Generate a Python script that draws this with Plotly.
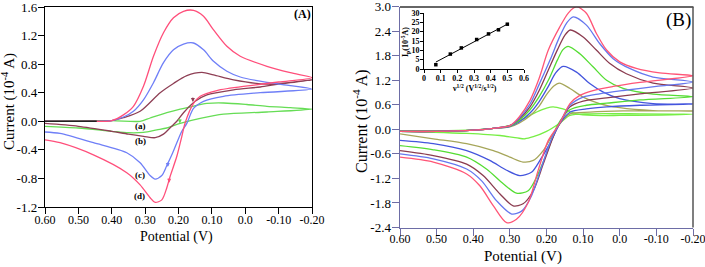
import plotly.graph_objects as go

# ---------------- Panel A data ----------------
a_xticks = [0.60, 0.50, 0.40, 0.30, 0.20, 0.10, 0.0, -0.10, -0.20]
a_xticktext = ["0.60", "0.50", "0.40", "0.30", "0.20", "0.10", "0.0", "-0.10", "-0.20"]
a_yticks = [1.6, 1.2, 0.8, 0.4, 0.0, -0.4, -0.8, -1.2]
a_yticktext = ["1.6", "1.2", "0.8", "0.4", "0.0", "-0.4", "-0.8", "-1.2"]

# (d) red
a_red_x = [0.60, 0.50, 0.40, 0.365, 0.335, 0.305, 0.275, 0.245, 0.215, 0.185, 0.155, 0.125, 0.095, 0.055, 0.015, -0.065, -0.135, -0.20,
           -0.10, -0.015, 0.085, 0.135, 0.155, 0.18, 0.19, 0.205, 0.225, 0.235, 0.25, 0.27, 0.285, 0.315, 0.355, 0.455, 0.555, 0.60]
a_red_y = [0.0, 0.0, 0.01, 0.09, 0.21, 0.49, 0.91, 1.24, 1.45, 1.54, 1.553, 1.47, 1.28, 1.05, 0.91, 0.77, 0.68, 0.61,
           0.55, 0.50, 0.43, 0.35, 0.25, -0.02, -0.21, -0.49, -0.77, -0.93, -1.10, -1.135, -1.07, -0.89, -0.72, -0.47, -0.30, -0.26]
# (c) blue
a_blue_x = [0.60, 0.50, 0.40, 0.365, 0.335, 0.305, 0.275, 0.245, 0.215, 0.185, 0.155, 0.125, 0.095, 0.055, 0.015, -0.065, -0.135, -0.20,
            -0.045, 0.065, 0.125, 0.155, 0.175, 0.19, 0.205, 0.22, 0.235, 0.25, 0.27, 0.285, 0.315, 0.355, 0.455, 0.555, 0.60]
a_blue_y = [0.0, 0.0, 0.01, 0.06, 0.14, 0.30, 0.54, 0.82, 1.0, 1.08, 1.096, 1.0, 0.84, 0.70, 0.62, 0.545, 0.50, 0.45,
            0.40, 0.35, 0.28, 0.18, -0.03, -0.14, -0.30, -0.47, -0.62, -0.76, -0.81, -0.76, -0.58, -0.44, -0.30, -0.17, -0.15]
# (b) brown
a_brown_x = [0.60, 0.50, 0.40, 0.365, 0.315, 0.255, 0.215, 0.175, 0.13, 0.095, 0.035, -0.065, -0.135, -0.20,
             -0.10, -0.045, 0.035, 0.115, 0.15, 0.185, 0.205, 0.225, 0.245, 0.27, 0.305, 0.35, 0.40, 0.50, 0.60]
a_brown_y = [0.0, 0.0, 0.01, 0.05, 0.14, 0.40, 0.53, 0.64, 0.685, 0.65, 0.58, 0.52, 0.545, 0.58,
             0.52, 0.48, 0.44, 0.37, 0.28, 0.12, 0.0, -0.09, -0.18, -0.23, -0.21, -0.18, -0.14, -0.07, -0.03]
# (a) green
a_green_x = [0.60, 0.40, 0.315, 0.285, 0.235, 0.195, 0.165, 0.115, 0.065, -0.005, -0.065, -0.135, -0.20,
             -0.065, 0.065, 0.135, 0.195, 0.235, 0.265, 0.305, 0.35, 0.40, 0.50, 0.60]
a_green_y = [0.0, 0.01, 0.0, 0.046, 0.12, 0.17, 0.20, 0.25, 0.256, 0.235, 0.21, 0.19, 0.17,
             0.13, 0.10, 0.04, -0.03, -0.094, -0.12, -0.155, -0.16, -0.14, -0.094, -0.07]
a_start_x = [0.60, 0.445]
a_start_y = [0.0, 0.0]

a_labels = ["(a)", "(b)", "(c)", "(d)"]
a_label_x = [0.315, 0.315, 0.315, 0.318]
a_label_y = [-0.07, -0.28, -0.75, -1.05]

# arrows on curves (head x, head y)
a_arrow_x = [0.228, 0.232, 0.157, 0.196]
a_arrow_y = [-0.86, -0.64, 0.27, -0.03]
a_arrow_col = ["#ff4f7b", "#6f7ff7", "#8e3f55", "#66dd55"]

# ---------------- Panel B data ----------------
b_xticks = a_xticks
b_xticktext = a_xticktext
b_yticks = [3.0, 2.4, 1.8, 1.2, 0.6, 0.0, -0.6, -1.2, -1.8, -2.4]
b_yticktext = ["3.0", "2.4", "1.8", "1.2", "0.6", "0.0", "-0.6", "-1.2", "-1.8", "-2.4"]

b7_x = [0.60, 0.50, 0.40, 0.35, 0.30, 0.275, 0.245, 0.22, 0.195, 0.164, 0.14, 0.118, 0.091, 0.064, 0.036, 0.0, -0.045, -0.109, -0.20,
        -0.055, 0.018, 0.073, 0.109, 0.136, 0.164, 0.195, 0.223, 0.25, 0.282, 0.309, 0.345, 0.382, 0.418, 0.509, 0.60]
b7_y = [-0.05, -0.05, -0.02, 0.02, 0.09, 0.30, 0.71, 1.25, 1.94, 2.5, 2.85, 3.0, 2.84, 2.35, 1.94, 1.65, 1.49, 1.38, 1.31,
        1.15, 1.05, 0.95, 0.83, 0.63, 0.15, -0.27, -1.01, -1.79, -2.2, -2.28, -1.87, -1.38, -1.09, -0.80, -0.68]
b6_x = [0.60, 0.50, 0.40, 0.35, 0.30, 0.275, 0.245, 0.22, 0.19, 0.165, 0.145, 0.127, 0.091, 0.055, 0.018, -0.027, -0.091, -0.20,
        -0.10, -0.009, 0.055, 0.10, 0.136, 0.164, 0.186, 0.214, 0.241, 0.268, 0.295, 0.336, 0.377, 0.418, 0.509, 0.60]
b6_y = [-0.05, -0.05, -0.02, 0.02, 0.09, 0.27, 0.62, 1.1, 1.7, 2.25, 2.6, 2.75, 2.55, 2.10, 1.73, 1.49, 1.28, 1.16,
        1.05, 0.95, 0.87, 0.79, 0.59, 0.15, -0.23, -0.93, -1.63, -2.0, -2.07, -1.75, -1.26, -0.97, -0.72, -0.60]
b5_x = [0.60, 0.50, 0.40, 0.35, 0.30, 0.275, 0.245, 0.22, 0.195, 0.17, 0.15, 0.135, 0.10, 0.064, 0.027, -0.018, -0.091, -0.20,
        -0.055, 0.036, 0.10, 0.136, 0.164, 0.182, 0.209, 0.236, 0.264, 0.291, 0.327, 0.373, 0.418, 0.509, 0.60]
b5_y = [-0.05, -0.05, -0.02, 0.02, 0.09, 0.25, 0.55, 0.95, 1.45, 1.95, 2.3, 2.43, 2.26, 1.94, 1.61, 1.36, 1.13, 1.01,
        0.87, 0.77, 0.69, 0.55, 0.15, -0.19, -0.85, -1.50, -1.82, -1.87, -1.58, -1.13, -0.85, -0.64, -0.52]
b4_x = [0.60, 0.50, 0.40, 0.35, 0.30, 0.275, 0.245, 0.22, 0.195, 0.17, 0.155, 0.141, 0.109, 0.073, 0.036, -0.009, -0.091, -0.20,
        -0.055, 0.036, 0.091, 0.136, 0.17, 0.20, 0.227, 0.25, 0.282, 0.318, 0.364, 0.418, 0.509, 0.60]
b4_y = [-0.05, -0.05, -0.02, 0.02, 0.08, 0.22, 0.48, 0.8, 1.2, 1.7, 1.95, 2.03, 1.85, 1.53, 1.20, 1.0, 0.86, 0.80,
        0.72, 0.64, 0.59, 0.48, 0.10, -0.60, -1.17, -1.50, -1.56, -1.33, -0.97, -0.68, -0.50, -0.40]
b3_x = [0.60, 0.50, 0.40, 0.35, 0.30, 0.275, 0.245, 0.22, 0.195, 0.175, 0.155, 0.118, 0.082, 0.045, 0.0, -0.091, -0.20,
        -0.055, 0.036, 0.091, 0.136, 0.164, 0.191, 0.218, 0.241, 0.273, 0.309, 0.355, 0.418, 0.509, 0.60]
b3_y = [-0.05, -0.05, -0.02, 0.02, 0.07, 0.18, 0.4, 0.68, 1.05, 1.38, 1.54, 1.40, 1.12, 0.91, 0.75, 0.63, 0.62,
        0.59, 0.55, 0.50, 0.42, 0.14, -0.35, -0.76, -1.05, -1.13, -1.0, -0.76, -0.52, -0.35, -0.27]
b2_x = [0.60, 0.50, 0.40, 0.35, 0.30, 0.275, 0.245, 0.22, 0.20, 0.18, 0.165, 0.136, 0.10, 0.055, 0.0, -0.091, -0.20,
        -0.009, 0.082, 0.136, 0.155, 0.182, 0.209, 0.236, 0.264, 0.30, 0.345, 0.418, 0.509, 0.60]
b2_y = [-0.05, -0.05, -0.02, 0.02, 0.06, 0.15, 0.33, 0.57, 0.85, 1.06, 1.13, 1.0, 0.79, 0.63, 0.53, 0.46, 0.45,
        0.45, 0.42, 0.38, 0.23, -0.11, -0.52, -0.76, -0.80, -0.68, -0.52, -0.35, -0.23, -0.11]
b1_x = [0.60, 0.50, 0.40, 0.35, 0.30, 0.28, 0.25, 0.22, 0.20, 0.182, 0.155, 0.118, 0.073, 0.0, -0.20,
        -0.055, 0.082, 0.136, 0.164, 0.20, 0.236, 0.259, 0.28, 0.327, 0.418, 0.509, 0.60]
b1_y = [-0.03, -0.03, -0.01, 0.02, 0.1, 0.18, 0.32, 0.45, 0.52, 0.55, 0.50, 0.38, 0.34, 0.34, 0.37,
        0.38, 0.38, 0.34, 0.15, -0.05, -0.18, -0.23, -0.21, -0.15, -0.10, -0.07, -0.05]

# inset data
inset_sqrt_v = [0.071, 0.158, 0.224, 0.316, 0.387, 0.447, 0.50]
inset_ip = [2.3, 8.0, 11.3, 15.8, 18.8, 21.0, 24.0]
inset_fit_x = [0.071, 0.50]
inset_fit_y = [3.7, 24.0]
inset_xticks = [0, 0.1, 0.2, 0.3, 0.4, 0.5, 0.6]
inset_xticktext = ["0", "0.1", "0.2", "0.3", "0.4", "0.5", "0.6"]
inset_yticks = [0, 5, 10, 15, 20, 25, 30]

# ---------------- figure ----------------
W, H = 705, 267
SERIF = "Liberation Serif, Times New Roman, serif"


def px_x(p):
    return p / W


def px_y(p):
    return 1 - p / H


fig = go.Figure()

LW = 1.3
a_series = [
    (a_green_x, a_green_y, "#66dd55"),
    (a_brown_x, a_brown_y, "#8e3f55"),
    (a_blue_x, a_blue_y, "#6f7ff7"),
    (a_red_x, a_red_y, "#ff4f7b"),
]
for xs, ys, c in a_series:
    fig.add_trace(go.Scatter(x=xs, y=ys, mode="lines", line=dict(color=c, width=LW, shape="spline", smoothing=0.8),
                             xaxis="x", yaxis="y", showlegend=False, hoverinfo="skip"))
fig.add_trace(go.Scatter(x=a_start_x, y=a_start_y, mode="lines", line=dict(color="#222222", width=1.6),
                         xaxis="x", yaxis="y", showlegend=False, hoverinfo="skip"))

b_series = [
    (b1_x, b1_y, "#77ee44"),
    (b2_x, b2_y, "#a6a65a"),
    (b3_x, b3_y, "#4455dd"),
    (b4_x, b4_y, "#55dd33"),
    (b5_x, b5_y, "#8b3c50"),
    (b6_x, b6_y, "#6677ee"),
    (b7_x, b7_y, "#ff5577"),
]
for xs, ys, c in b_series:
    fig.add_trace(go.Scatter(x=xs, y=ys, mode="lines", line=dict(color=c, width=LW, shape="spline", smoothing=0.8),
                             xaxis="x2", yaxis="y2", showlegend=False, hoverinfo="skip"))

fig.add_trace(go.Scatter(x=inset_fit_x, y=inset_fit_y, mode="lines", line=dict(color="black", width=1),
                         xaxis="x3", yaxis="y3", showlegend=False, hoverinfo="skip"))
fig.add_trace(go.Scatter(x=inset_sqrt_v, y=inset_ip, mode="markers", marker=dict(color="black", size=3.5, symbol="square"),
                         xaxis="x3", yaxis="y3", showlegend=False, hoverinfo="skip"))

xtickfont = dict(family=SERIF, size=12, color="black")
ytickfont = dict(family=SERIF, size=13, color="black")
AX_B = "#6d6da6"
common = dict(showgrid=False, zeroline=False, showline=True, ticks="outside", automargin=False,
              ticklabeloverflow="allow")

fig.update_layout(
    template="none",
    width=W, height=H, margin=dict(l=0, r=0, t=0, b=0, autoexpand=False),
    paper_bgcolor="white", plot_bgcolor="white",
    xaxis=dict(domain=[px_x(45), px_x(312)], range=[0.60, -0.20], tickvals=a_xticks, ticktext=a_xticktext,
               linecolor="black", linewidth=1.2, mirror=True, ticklen=6, tickcolor="black",
               tickfont=xtickfont, anchor="y", ticklabelstandoff=-5, **common),
    yaxis=dict(domain=[px_y(207), px_y(7)], range=[-1.2, 1.6], tickvals=a_yticks, ticktext=a_yticktext,
               linecolor="black", linewidth=1.2, mirror=True, ticklen=6, tickcolor="black",
               tickfont=ytickfont, anchor="x", ticklabelstandoff=-2, **common),
    xaxis2=dict(domain=[px_x(400), px_x(693)], range=[0.60, -0.20], tickvals=b_xticks, ticktext=b_xticktext,
                linecolor=AX_B, linewidth=1.5, ticklen=7, tickcolor=AX_B,
                tickfont=xtickfont, anchor="y2", ticklabelstandoff=-7, **common),
    yaxis2=dict(domain=[px_y(227.5), px_y(6.7)], range=[-2.4, 3.0], tickvals=b_yticks, ticktext=b_yticktext,
                linecolor=AX_B, linewidth=1.5, ticklen=7, tickcolor=AX_B,
                tickfont=ytickfont, anchor="x2", ticklabelstandoff=-2, **common),
    xaxis3=dict(domain=[px_x(424), px_x(524)], range=[0, 0.6], tickvals=inset_xticks, ticktext=inset_xticktext,
                linecolor="black", linewidth=1, ticklen=3, tickcolor="black",
                tickfont=dict(family=SERIF, size=8, color="black", weight="bold"), anchor="y3",
                ticklabelstandoff=-2, **common),
    yaxis3=dict(domain=[px_y(69), px_y(13)], range=[0, 30], tickvals=inset_yticks,
                linecolor="black", linewidth=1, ticklen=3, tickcolor="black",
                tickfont=dict(family=SERIF, size=8, color="black", weight="bold"), anchor="x3",
                ticklabelstandoff=-1, **common),
)

# frame of panel B (top and right)
fig.add_shape(type="line", xref="paper", yref="paper", x0=px_x(400), x1=px_x(693.5), y0=px_y(7), y1=px_y(7),
              line=dict(color="#333333", width=1.5))
fig.add_shape(type="line", xref="paper", yref="paper", x0=px_x(693), x1=px_x(693), y0=px_y(7), y1=px_y(227.5),
              line=dict(color="#555555", width=1.5))

ann = []
ann.append(dict(text="Potential (V)", x=px_x(177), y=px_y(237), xref="paper", yref="paper", showarrow=False,
                font=dict(family=SERIF, size=14, color="black"), xanchor="center", yanchor="middle"))
ann.append(dict(text="Current (10<sup>-4</sup> A)", x=px_x(8), y=px_y(102), xref="paper", yref="paper", showarrow=False,
                textangle=-90, font=dict(family=SERIF, size=15, color="black"), xanchor="center", yanchor="middle"))
ann.append(dict(text="Potential (V)", x=px_x(523), y=px_y(256), xref="paper", yref="paper", showarrow=False,
                font=dict(family=SERIF, size=15, color="black"), xanchor="center", yanchor="middle"))
ann.append(dict(text="Current (10<sup>-4</sup> A)", x=px_x(360), y=px_y(121), xref="paper", yref="paper", showarrow=False,
                textangle=-90, font=dict(family=SERIF, size=16, color="black"), xanchor="center", yanchor="middle"))
ann.append(dict(text="<b>(A)</b>", x=px_x(302), y=px_y(14), xref="paper", yref="paper", showarrow=False,
                font=dict(family=SERIF, size=12, color="black"), xanchor="center", yanchor="middle"))
ann.append(dict(text="(B)", x=px_x(678), y=px_y(20), xref="paper", yref="paper", showarrow=False,
                font=dict(family=SERIF, size=19, color="black"), xanchor="center", yanchor="middle"))
for t, lx, ly in zip(a_labels, a_label_x, a_label_y):
    ann.append(dict(text="<b>" + t + "</b>", x=lx, y=ly, xref="x", yref="y", showarrow=False,
                    font=dict(family=SERIF, size=9, color="black"), xanchor="center", yanchor="middle"))
for hx, hy, c in zip(a_arrow_x, a_arrow_y, a_arrow_col):
    ann.append(dict(x=hx, y=hy, xref="x", yref="y", ax=0, ay=-6, showarrow=True, arrowhead=2,
                    arrowsize=0.8, arrowwidth=1, arrowcolor=c, text=""))
ann.append(dict(text="<b>I<sub>p</sub>(10<sup>-5</sup>A)</b>", x=px_x(406), y=px_y(42), xref="paper", yref="paper",
                showarrow=False, textangle=-90, font=dict(family=SERIF, size=8, color="black"),
                xanchor="center", yanchor="middle"))
ann.append(dict(text="<b>ν<sup>1/2</sup> (V<sup>1/2</sup>/s<sup>1/2</sup>)</b>", x=px_x(474), y=px_y(88),
                xref="paper", yref="paper", showarrow=False, font=dict(family=SERIF, size=8, color="black"),
                xanchor="center", yanchor="middle"))
fig.update_layout(annotations=ann)

fig.write_html("out.html", config={"staticPlot": True},
               post_script="document.body.style.margin='0px';document.body.style.overflow='hidden';")
